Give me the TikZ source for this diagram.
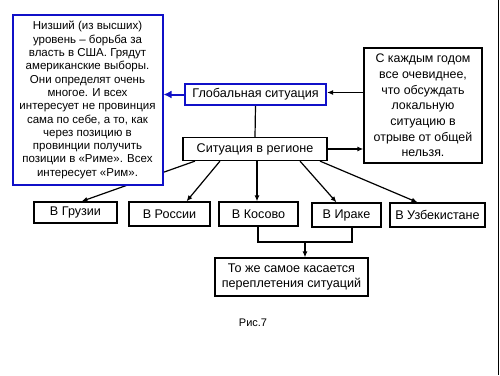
\documentclass[tikz,border=0pt]{standalone}
\usepackage{fontspec}
\setmainfont{Liberation Sans}
\usetikzlibrary{arrows.meta,positioning,calc}
\definecolor{frameblue}{HTML}{1010C8}
\definecolor{ink}{HTML}{000000}

\tikzset{
  box/.style={draw=ink,line width=1.2pt,fill=white,inner sep=2pt,align=center,font=\fontsize{12.6}{15}\selectfont},
  bluebox/.style={box,draw=frameblue,line width=2pt},
  link/.style={draw=ink,line width=1.2pt},
  arr/.style={link,-{Latex[length=6pt,width=5pt]}}
}

\begin{document}
\begin{tikzpicture}[x=1pt,y=-1pt]
  \useasboundingbox (0,0) rectangle (500,375);

  % Slide edge
  \draw[ink,line width=1.5pt] (498.5,0) -- (498.5,375);

  % Centre: global and regional level
  \node[bluebox,minimum width=141pt,minimum height=21pt] (glob) at (255.5,94.5) {Глобальная ситуация};
  \node[box,minimum width=144pt,minimum height=23pt] (region) at (255,149) {Ситуация в регионе};

  % Right: comment box
  \node[box,font=\fontsize{12.4}{15.7}\selectfont,minimum width=118pt,minimum height=115pt] (note) at (423,105.5)
    {С каждым годом\\все очевиднее,\\что обсуждать\\локальную\\ситуацию в\\отрыве от общей\\нельзя.};

  % Regions
  \node[box,minimum width=83pt,minimum height=21pt] (gruz) at (75.5,212.5) {В Грузии};
  \node[box,minimum width=81pt,minimum height=24pt] (ross) at (169.5,214) {В России};
  \node[box,minimum width=79pt,minimum height=24pt] (kos) at (258.5,214) {В Косово};
  \node[box,minimum width=69pt,minimum height=24pt] (irak) at (346.5,215) {В Ираке};
  \node[box,minimum width=95pt,minimum height=24pt] (uzb) at (437.5,215) {В Узбекистане};

  % Fan-out from the region (drawn under the blue box)
  \draw[arr] ([xshift=-60pt]region.south) -- ([xshift=6pt]gruz.north);
  \draw[arr] ([xshift=-35pt]region.south) -- ([xshift=17pt]ross.north);
  \draw[arr] ([xshift=2pt]region.south) -- ([xshift=-1.5pt]kos.north);
  \draw[arr] ([xshift=45pt]region.south) -- ([xshift=-10pt]irak.north);
  \draw[arr] ([xshift=65pt]region.south) -- ([xshift=-20pt]uzb.north);

  % Left: blue comment box
  \node[bluebox,font=\fontsize{11.5}{13.3}\selectfont,minimum width=150pt,minimum height=170pt] (usa) at (87.5,100)
    {Низший (из высших)\\уровень -- борьба за\\власть в США. Грядут\\американские выборы.\\Они определят очень\\многое. И всех\\интересует не провинция\\сама по себе, а то, как\\через позицию в\\провинции получить\\позиции в «Риме». Всех\\интересует «Рим».};

  % Links between levels
  \draw[frameblue,line width=2pt,-{Latex[length=8pt,width=8pt]}] (glob.west) -- (glob.west -| usa.east);
  \draw[link] (glob.south) -- (region.north);
  \draw[arr] ([yshift=2pt]glob.east -| note.west) -- ([yshift=2pt]glob.east);
  \draw[arr] (region.east) -- (region.east -| note.west);

  % Merge: Kosovo and Iraq
  \node[box,minimum width=153pt,minimum height=38pt] (same) at (291.5,277)
    {То же самое касается\\переплетения ситуаций};
  \coordinate (join) at (305,242);
  \draw[link] ([xshift=-0.5pt]kos.south) |- (join) -| ([xshift=5.5pt]irak.south);
  \draw[arr] (join) -- (join |- same.north);

  \node[font=\fontsize{11}{13}\selectfont] (fig) at (253,323) {Рис.7};
\end{tikzpicture}
\end{document}
